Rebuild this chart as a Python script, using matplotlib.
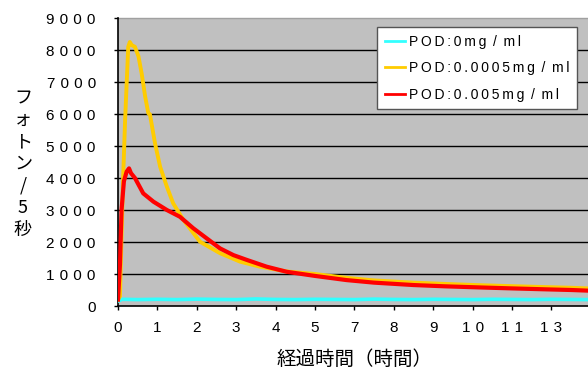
import matplotlib
matplotlib.use("Agg")
import matplotlib.pyplot as plt

plt.rcParams['font.family'] = ['Liberation Sans', 'DejaVu Sans']

# x positions in category-index units (0..11 = tick positions)
x_labels = ["0", "1", "2", "3", "4", "5", "7", "8", "9", "10", "11", "13"]
y_ticks = [0, 1000, 2000, 3000, 4000, 5000, 6000, 7000, 8000, 9000]

t_yellow = [0, 0.05, 0.13, 0.18, 0.26, 0.3, 0.35, 0.43, 0.52, 0.6, 0.69, 0.77, 0.81,
            0.94, 1.07, 1.24, 1.4, 1.66, 2.08, 2.59, 3.1, 3.6, 4.28, 5.0, 5.8, 6.5,
            7.5, 8.3, 9.19, 10.0, 10.88, 11.5, 11.93]
v_yellow = [200, 300, 4000, 5800, 8100, 8250, 8150, 8100, 7800, 7270, 6540, 6020, 5990,
            5080, 4350, 3730, 3210, 2690, 2010, 1650, 1385, 1230, 1080, 1000, 880, 800,
            730, 690, 650, 620, 590, 570, 550]

t_red = [0, 0.05, 0.09, 0.15, 0.22, 0.28, 0.33, 0.43, 0.64, 0.9, 1.24, 1.57, 1.91,
         2.25, 2.59, 2.93, 3.27, 3.77, 4.28, 5.0, 5.8, 6.5, 7.5, 8.3, 9.19, 10.0,
         10.88, 11.5, 11.93]
v_red = [200, 1300, 3000, 3900, 4200, 4300, 4150, 4000, 3520, 3260, 3000, 2790, 2430,
         2115, 1800, 1590, 1440, 1230, 1070, 940, 810, 730, 655, 615, 580, 550,
         520, 500, 480]

t_cyan = [0, 0.1, 0.5, 1.0, 1.5, 2.0, 2.5, 3.0, 3.5, 4.0, 4.5, 5.0, 5.5, 6.0, 6.5,
          7.0, 7.5, 8.0, 8.5, 9.0, 9.5, 10.0, 10.5, 11.0, 11.5, 11.93]
v_cyan = [150, 210, 200, 210, 200, 215, 205, 200, 220, 205, 200, 210, 205, 200, 215,
          205, 200, 210, 205, 200, 210, 205, 200, 210, 205, 200]

series_labels = ["POD:0mg / ml", "POD:0.0005mg / ml", "POD:0.005mg / ml"]
colors = ["#33FFFF", "#FFCC00", "#FF0000"]

SP3 = "\u2004"
TH = "\u2009"

fig = plt.figure(figsize=(5.88, 3.77), dpi=100)
ax = fig.add_axes([118/588, 1-306/377, 1-118/588, 288/377])
ax.set_facecolor("#C0C0C0")

for yv in y_ticks[1:-1]:
    ax.axhline(yv, color="#000000", lw=1.0, zorder=1)

l1, = ax.plot(t_cyan, v_cyan, color=colors[0], lw=2.6, zorder=3, label=series_labels[0])
l2, = ax.plot(t_yellow, v_yellow, color=colors[1], lw=2.8, zorder=4, label=series_labels[1])
l3, = ax.plot(t_red, v_red, color=colors[2], lw=3.0, zorder=5, label=series_labels[2])

ax.set_xlim(0, 11.93)
ax.set_ylim(0, 9000)
ax.set_xticks(range(len(x_labels)))
ax.set_xticklabels([SP3.join(list(s)) for s in x_labels], fontsize=11)
ax.set_yticks(y_ticks)
ax.set_yticklabels([SP3.join(list(str(v))) for v in y_ticks], fontsize=11)
ax.tick_params(axis='x', direction='out', length=3, width=1, pad=8, colors='#000000')
ax.tick_params(axis='y', direction='out', length=3, width=1, pad=13, colors='#000000')

for side in ['top', 'right']:
    ax.spines[side].set_visible(False)
ax.spines['left'].set_color('#000000')
ax.spines['bottom'].set_color('#000000')
ax.spines['left'].set_linewidth(1.2)
ax.spines['bottom'].set_linewidth(1.2)
ax.axhline(9000, color="#A0A0A0", lw=1.0, zorder=1, clip_on=False)

fig.text(355/588, 1-359/377, "経過時間（時間）", ha='center', va='center', fontsize=14,
         family=['Noto Sans CJK JP', 'DejaVu Sans'])
fig.text(23/588, 1-164/377, "\n".join(list("フォトン/5秒")), ha='center', va='center',
         fontsize=13, linespacing=1.28, family=['Noto Sans CJK JP', 'DejaVu Sans'])

leg_labels = [TH.join(list(s.replace(" / ", "/"))).replace("/", " / ") for s in series_labels]
leg = ax.legend(handles=[l1, l2, l3], labels=leg_labels,
                loc='upper left', bbox_to_anchor=(377/588, 1-27/377),
                bbox_transform=fig.transFigure, fontsize=10, frameon=True, fancybox=False,
                handlelength=1.45, handletextpad=0.3, labelspacing=0.9, borderpad=0.55,
                borderaxespad=0)
leg.get_frame().set_edgecolor("#555555")
leg.get_frame().set_linewidth(1.0)
leg.get_frame().set_facecolor("#FFFFFF")
leg.get_frame().set_alpha(1.0)
for h in leg.get_lines():
    h.set_linewidth(2.0)

fig.savefig("out.png", dpi=100)
